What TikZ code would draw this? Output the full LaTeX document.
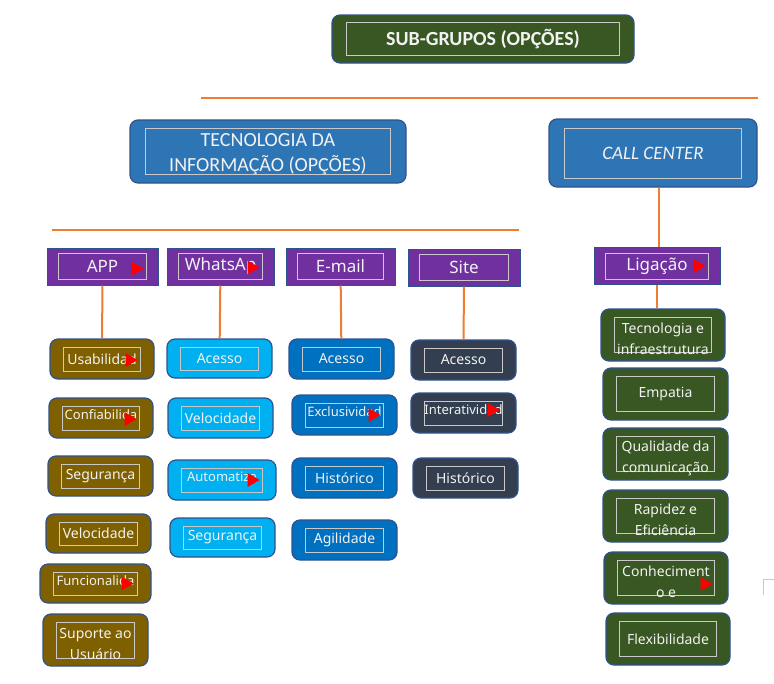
\documentclass[tikz,border=0pt]{standalone}
\usepackage{fontspec}
\setmainfont{Noto Sans}
\newfontfamily\headfont{Carlito}
\usepackage{tikz}
\usetikzlibrary{calc}

\definecolor{bordblue}{HTML}{2F528F}
\definecolor{greenc}{HTML}{385723}
\definecolor{techblue}{HTML}{2E75B6}
\definecolor{purplec}{HTML}{7030A0}
\definecolor{brownc}{HTML}{7F6000}
\definecolor{cyanc}{HTML}{00B0F0}
\definecolor{bluec}{HTML}{0070C0}
\definecolor{navyc}{HTML}{333F50}
\definecolor{orangec}{HTML}{ED7D31}
\definecolor{framegray}{HTML}{C9C9C9}
\definecolor{textwhite}{HTML}{F2F2F2}

\begin{document}
\begin{tikzpicture}[x=1pt, y=-1pt,
    every node/.append style={align=center},
    box/.style={draw=bordblue, line width=1.2pt, rounded corners=8pt, inner sep=0pt},
    tab/.style={draw=bordblue, line width=1pt, fill=purplec, inner sep=0pt, minimum height=37},
    frame/.style={draw=framegray, line width=0.7pt},
    txt/.style={text=textwhite, inner sep=0pt, font=\fontsize{14}{21}\selectfont},
    whole/.style={},
    low/.style={yshift=-4pt},
    cut/.style={font=\fontsize{13}{16}\selectfont, yshift=3pt},
    link/.style={draw=orangec, line width=2pt}]

    \useasboundingbox (0,0) rectangle (774,683);

    % top level
    \node [box, fill=greenc, minimum width=302, minimum height=48] (sub) at (483,39) {};
    \draw [frame] ($(sub.north west)+(15,8)$) rectangle ($(sub.south east)+(-15,-8)$);
    \node [txt, font=\headfont\bfseries\fontsize{20}{24}\selectfont] (sub-t) at (sub) {SUB-GRUPOS (OPÇÕES)};

    \coordinate (bar1w) at (201,98);
    \coordinate (bar1e) at (758,98);
    \draw [link] (bar1w) -- (bar1e);

    % second level
    \node [box, fill=techblue, minimum width=276, minimum height=63] (ti) at (268,151.5) {};
    \draw [frame] ($(ti.north west)+(16,9)$) rectangle ($(ti.south east)+(-16,-9)$);
    \node [txt, font=\headfont\fontsize{20}{25}\selectfont] (ti-t) at ([yshift=-3pt]ti.center) {TECNOLOGIA DA\\INFORMAÇÃO (OPÇÕES)};

    \node [box, fill=techblue, minimum width=208, minimum height=68] (cc) at (653,153) {};
    \draw [frame] ($(cc.north west)+(16,9.5)$) rectangle ($(cc.south east)+(-16,-9.5)$);
    \node [txt, font=\headfont\itshape\fontsize{19}{24}\selectfont] (cc-t) at (cc) {CALL CENTER};

    \coordinate (bar2w) at (52,230);
    \coordinate (bar2e) at (519,230);
    \draw [link] (bar2w) -- (bar2e);

    % channels
    \foreach \nm/\cx/\cy/\w/\txt in {app/102.5/266.5/111/APP, wapp/220.5/266.5/107/WhatsAp,
        mail/340.5/266.5/109/E-mail, site/464/267.5/112/Site, lig/657/266/126/Ligação} {
      \node [tab, minimum width=\w] (\nm) at (\cx,\cy) {};
      \draw [frame] ($(\nm.north west)+(12,6)$) rectangle ($(\nm.south east)+(-12,-6)$);
      \node [txt, font=\fontsize{17}{20}\selectfont] (\nm-t) at (\nm) {\txt};
    }

    % APP
    \foreach \nm/\cx/\cy/\w/\h/\st/\txt in {usa/102/359/104/40/whole/Usabilidad,
        conf/101/418/104/40/cut/Confiabilida, seg1/100.5/476/105/40/whole/Segurança,
        vel1/98.5/533.5/105/39/whole/Velocidade, func/95.5/583.5/111/39/cut/Funcionalida,
        sup/95.5/640/105/52/low/{Suporte ao\\Usuário}} {
      \node [box, fill=brownc, minimum width=\w, minimum height=\h] (\nm) at (\cx,\cy) {};
      \draw [frame] ($(\nm.north west)+(14,8.5)$) rectangle ($(\nm.south east)+(-14,-8.5)$);
      \node [txt, \st] (\nm-t) at (\nm) {\txt};
    }

    % WhatsApp
    \foreach \nm/\cx/\cy/\w/\h/\st/\txt in {acc2/219.5/358.5/105/39/whole/Acesso,
        vel2/220.5/418/105/40/whole/Velocidade, auto/222/480/108/40/cut/Automatiza,
        seg2/222.5/537.5/105/39/whole/Segurança} {
      \node [box, fill=cyanc, minimum width=\w, minimum height=\h] (\nm) at (\cx,\cy) {};
      \draw [frame] ($(\nm.north west)+(14,8.5)$) rectangle ($(\nm.south east)+(-14,-8.5)$);
      \node [txt, \st] (\nm-t) at (\nm) {\txt};
    }

    % E-mail
    \foreach \nm/\cx/\cy/\w/\h/\st/\txt in {acc3/341.5/359/105/40/whole/Acesso,
        excl/344.5/415/105/40/cut/Exclusividad, his3/344.5/478/105/40/whole/Histórico,
        agi/344.5/540/105/40/whole/Agilidade} {
      \node [box, fill=bluec, minimum width=\w, minimum height=\h] (\nm) at (\cx,\cy) {};
      \draw [frame] ($(\nm.north west)+(14,8.5)$) rectangle ($(\nm.south east)+(-14,-8.5)$);
      \node [txt, \st] (\nm-t) at (\nm) {\txt};
    }

    % Site
    \foreach \nm/\cx/\cy/\w/\h/\st/\txt in {acc4/463.5/360/105/40/whole/Acesso,
        inter/463.5/413/105/40/cut/Interatividad, his4/465.5/478/105/40/whole/Histórico} {
      \node [box, fill=navyc, minimum width=\w, minimum height=\h] (\nm) at (\cx,\cy) {};
      \draw [frame] ($(\nm.north west)+(14,8.5)$) rectangle ($(\nm.south east)+(-14,-8.5)$);
      \node [txt, \st] (\nm-t) at (\nm) {\txt};
    }

    % Ligacao
    \foreach \nm/\cx/\cy/\w/\st/\txt in {tec/663/335/124/low/{Tecnologia e\\infraestrutura},
        emp/665.5/394/125/whole/Empatia, qual/665.5/454/125/low/{Qualidade da\\comunicação},
        rap/665.5/516/125/low/{Rapidez e\\Eficiência}, conh/666/578/124/low/{Conheciment\\o e},
        flex/668/639/124/whole/Flexibilidade} {
      \node [box, fill=greenc, minimum width=\w, minimum height=52] (\nm) at (\cx,\cy) {};
      \draw [frame] ($(\nm.north west)+(14,9)$) rectangle ($(\nm.south east)+(-14,-9)$);
      \node [txt, \st] (\nm-t) at (\nm) {\txt};
    }

    % red markers
    \foreach \b/\dx/\dy in {app/15/2, wapp/15/1, lig/15/0, usa/17/1, conf/17/1, auto/17/0,
        func/18/0, excl/17/0, inter/17/-3, conh/16/6} {
      \fill [red] ($(\b.east)+(-\dx-12,\dy-7)$) -- ++(0,14) -- ++(12,-7) -- cycle;
    }

    % connections
    \path [link] (app) edge (usa)
      (wapp) edge (acc2)
      (mail) edge (acc3)
      (site) edge (acc4);
    \draw [link] ([xshift=6pt]cc.south) -- ([xshift=6pt]cc.south |- lig.north);
    \draw [link] (lig) -- (lig |- tec.north);

    \draw [framegray, line width=1pt] (763,595) -- (763,579) -- (774,579);
\end{tikzpicture}
\end{document}
